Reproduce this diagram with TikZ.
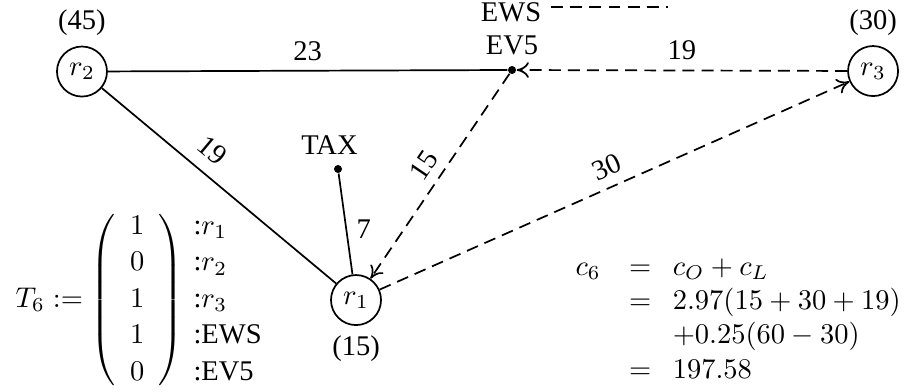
\documentclass[tikz,border=0pt]{standalone}
\usepackage[no-math]{fontspec}
\setmainfont{Liberation Serif}
\usetikzlibrary{arrows.meta}

\begin{document}
\begin{tikzpicture}[
  v/.style={circle,draw,semithick,minimum size=0.617cm,inner sep=0pt},
  spot/.style={circle,fill,minimum size=0.099cm,inner sep=0pt},
  link/.style={black,semithick},
  tour/.style={-{To[length=4.3pt,width=5.5pt]},black,semithick,dash pattern=on 4.2pt off 2.5pt},
  x=1cm,y=1cm
]
  \useasboundingbox (0,0) rectangle (11.234,4.822);

  \node[v,label=above:(45)] (r2) at (1.011,3.940) {$r_2$};
  \node[v,label=above:(30)] (r3) at (10.766,3.946) {$r_3$};
  \node[v,label=below:(15)] (r1) at (4.390,1.122) {$r_1$};
  \node[spot,label=above:EV5] (ev5) at (6.314,3.959) {};
  \node[spot,label={[xshift=-3pt]above:TAX}] (tax) at (4.168,2.738) {};

  \node (ews) at (6.302,4.674) {EWS};
  \coordinate (ewsend) at (8.238,4.736);
  \draw[tour,-] (ews.east |- ewsend) -- (ewsend);

  \draw[link] (r2)--node[above]{23}(ev5);
  \draw[link] (r2)--node[sloped,above=1pt,pos=0.41]{19}(r1);
  \draw[link] (tax)--node[right,pos=0.55]{7}(r1);
  \draw[tour] (r3)--node[above]{19}(ev5);
  \draw[tour] (ev5)--node[sloped,above]{15}(r1);
  \draw[tour] (r1)--node[sloped,above]{30}(r3);

  \node[anchor=west,inner sep=0pt] (t6) at (0.185,1.122)
    {\def\arraystretch{1.07}%
     $T_6 := \left(\begin{array}{c}1\\0\\1\\1\\0\end{array}\right)$\hspace{3.5pt}%
     \begin{tabular}{@{}l@{}}:$r_1$\\:$r_2$\\:$r_3$\\:EWS\\:EV5\end{tabular}};
  \node[anchor=west,inner sep=0pt] (c6) at (7.091,0.876)
    {$\begin{array}{@{}r@{\hspace{10pt}}c@{\hspace{7.5pt}}l@{}}
      c_6 & {=} & c_O + c_L\\
          & {=} & 2.97(15+30+19)\\
          &     & {+}0.25(60-30)\\
          & {=} & 197.58
     \end{array}$};
\end{tikzpicture}
\end{document}
